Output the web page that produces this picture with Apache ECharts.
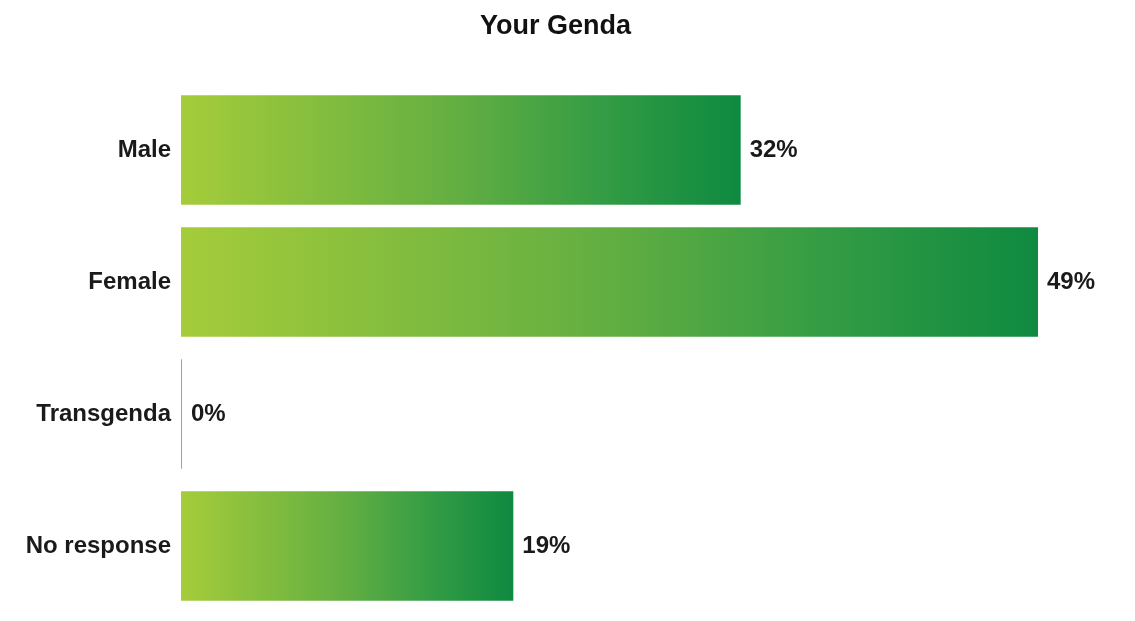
<!DOCTYPE html>
<html>
<head>
<meta charset="utf-8">
<style>
  html, body { margin: 0; padding: 0; background: #ffffff; }
  #chart { width: 1135px; height: 621px; }
</style>
<script src="https://cdn.jsdelivr.net/npm/echarts@6/dist/echarts.min.js"></script>
</head>
<body>
<div id="chart"></div>
<script>
// Survey answers: gender breakdown (percent)
const categories = ['Male', 'Female', 'Transgenda', 'No response'];
const percentages = [32, 49, 0, 19];
const chartTitle = 'Your Genda';

const chart = echarts.init(document.getElementById('chart'));

// Each bar fades from lime on the left to deep green at its end
const barGradient = new echarts.graphic.LinearGradient(0, 0, 1, 0, [
  { offset: 0, color: '#a5cc3a' },
  { offset: 0.5, color: '#62ae42' },
  { offset: 0.75, color: '#349c44' },
  { offset: 1, color: '#0e8a40' }
]);

const fontFamily = 'Liberation Sans, Arial, Helvetica, sans-serif';

chart.setOption({
  backgroundColor: '#ffffff',
  title: {
    text: chartTitle,
    left: 475,
    top: 8,
    textStyle: {
      fontFamily: fontFamily,
      fontSize: 27,
      fontWeight: 'bold',
      color: '#111111'
    }
  },
  grid: { left: 181, right: 97, top: 84, bottom: 9, containLabel: false },
  xAxis: {
    type: 'value',
    min: 0,
    max: 49,
    show: false
  },
  yAxis: {
    type: 'category',
    data: categories,
    inverse: true,
    axisLine: { show: false },
    axisTick: { show: false },
    axisLabel: {
      margin: 10,
      fontFamily: fontFamily,
      fontSize: 24,
      fontWeight: 'bold',
      color: '#1a1a1a'
    }
  },
  series: [{
    type: 'bar',
    data: percentages,
    barCategoryGap: '17%',
    barMinHeight: 1,
    itemStyle: {
      color: function (p) {
        return p.value === 0 ? '#8fae8f' : barGradient;
      }
    },
    label: {
      show: true,
      position: 'right',
      distance: 9,
      formatter: '{c}%',
      fontFamily: fontFamily,
      fontSize: 24,
      fontWeight: 'bold',
      color: '#1a1a1a'
    },
    animation: false
  }]
});
</script>
</body>
</html>
